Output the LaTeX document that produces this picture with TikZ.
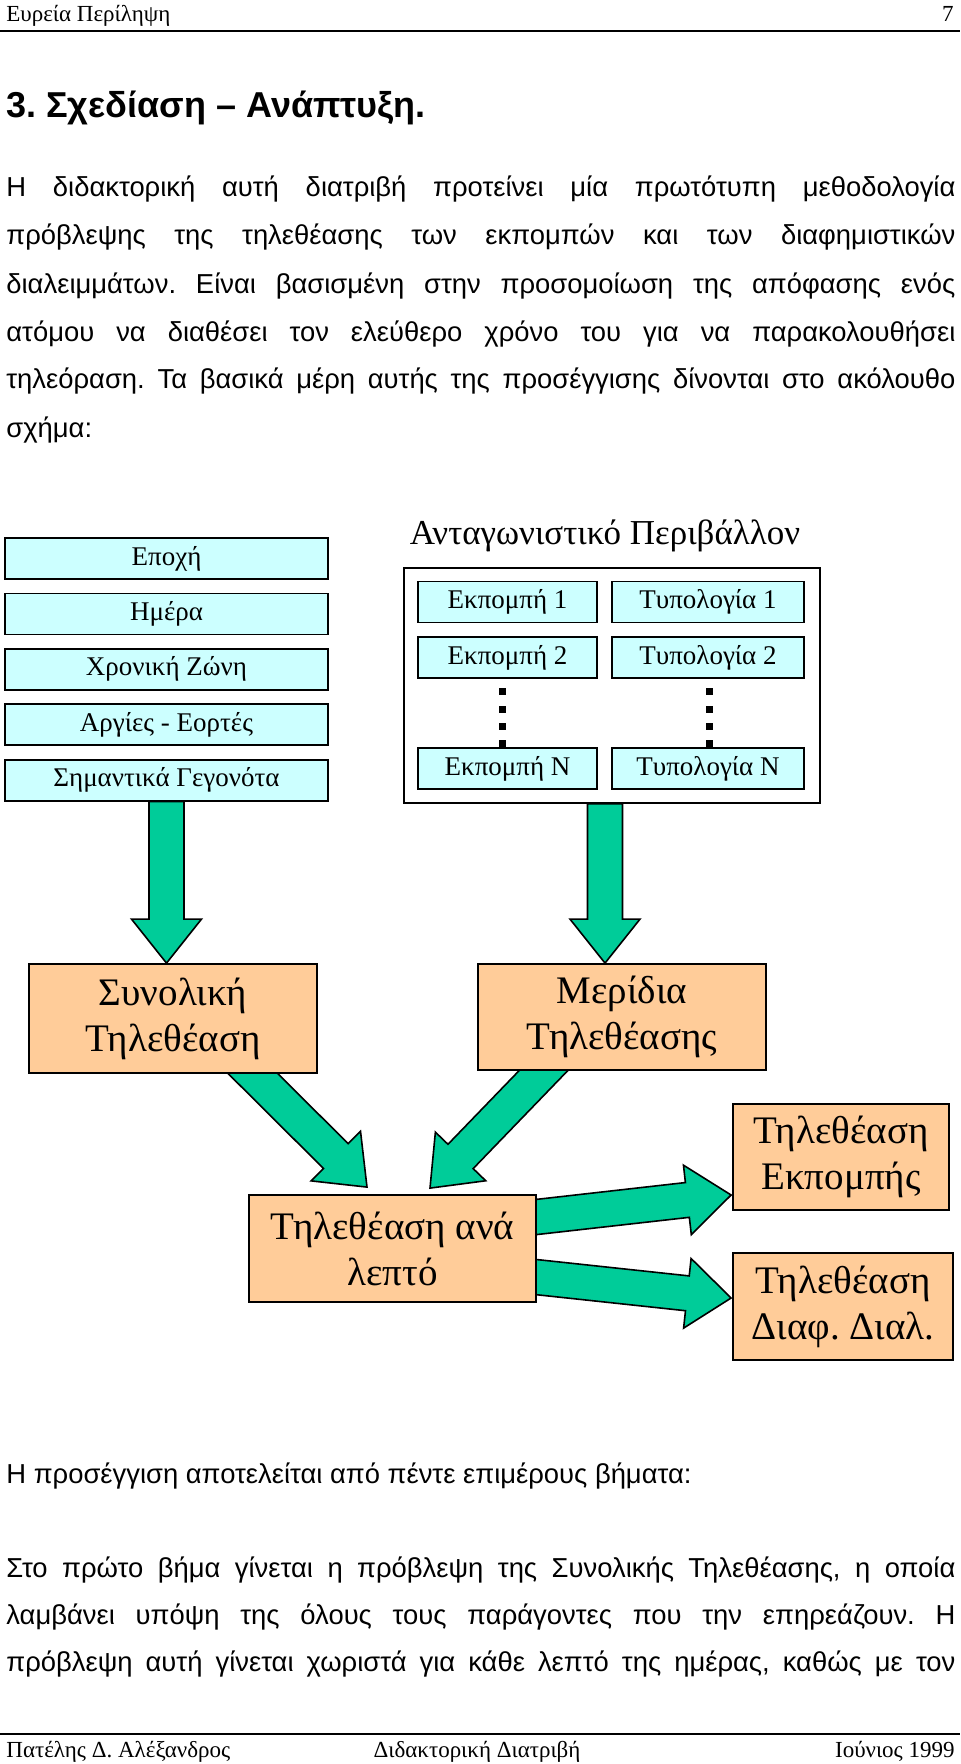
\documentclass[tikz,border=0pt]{standalone}
\usepackage{fontspec}
\setmainfont{Liberation Serif}
\newfontfamily\arialfont{Liberation Sans}
\usetikzlibrary{calc,backgrounds}
\frenchspacing

\definecolor{arrgreen}{RGB}{0,204,153}
\definecolor{peach}{RGB}{255,204,153}
\definecolor{icecyan}{RGB}{204,255,255}

% thick block arrow from #1 to #2
\newcommand\fatarrow[2]{%
  \coordinate (fah) at ($(#2)!22pt!(#1)$);
  \filldraw[fill=arrgreen,draw=black,line width=0.8pt,line join=miter]
    ($(#1)!8.75pt!90:(#2)$) -- ($(fah)!8.75pt!-90:(#1)$) -- ($(fah)!17.5pt!-90:(#1)$)
    -- (#2) -- ($(fah)!17.5pt!90:(#1)$) -- ($(fah)!8.75pt!90:(#1)$)
    -- ($(#1)!8.75pt!-90:(#2)$) -- cycle;}

\tikzset{
  bodyline/.style={anchor=base west,inner sep=0pt,font=\arialfont\fontsize{13.7}{16}\selectfont},
  factorbox/.style={draw=black,fill=icecyan,line width=0.9pt,minimum width=161.5pt,minimum height=20.5pt,inner sep=0pt,font=\fontsize{13.5}{16}\selectfont},
  showbox/.style={factorbox,minimum width=89.5pt},
  typebox/.style={factorbox,minimum width=96pt},
  resultbox/.style={draw=black,fill=peach,line width=0.9pt,inner sep=0pt,align=center,font=\fontsize{19.5}{23}\selectfont}
}

\begin{document}
\begin{tikzpicture}[x=0.5pt,y=-0.5pt]
  \useasboundingbox (0,0) rectangle (960,1764);

  % header
  \node[anchor=base west,inner sep=0pt,font=\fontsize{11.5}{13}\selectfont] (hdl) at (6,22) {Ευρεία Περίληψη};
  \node[anchor=base east,inner sep=0pt,font=\fontsize{11.5}{13}\selectfont] (hdr) at (954,22) {7};
  \draw[line width=1pt] (0,31) -- (960,31);

  \node[anchor=base west,inner sep=0pt,font=\arialfont\bfseries\fontsize{18}{21}\selectfont] (title) at (6,118) {3. Σχεδίαση – Ανάπτυξη.};

  \node[bodyline] (p1a) at (6,197) {\makebox[474.5pt][s]{Η διδακτορική αυτή διατριβή προτείνει μία πρωτότυπη μεθοδολογία}};
  \node[bodyline] (p1b) at (6,245) {\makebox[474.5pt][s]{πρόβλεψης της τηλεθέασης των εκπομπών και των διαφημιστικών}};
  \node[bodyline] (p1c) at (6,294) {\makebox[474.5pt][s]{διαλειμμάτων. Είναι βασισμένη στην προσομοίωση της απόφασης ενός}};
  \node[bodyline] (p1d) at (6,342) {\makebox[474.5pt][s]{ατόμου να διαθέσει τον ελεύθερο χρόνο του για να παρακολουθήσει}};
  \node[bodyline] (p1e) at (6,389) {\makebox[474.5pt][s]{τηλεόραση. Τα βασικά μέρη αυτής της προσέγγισης δίνονται στο ακόλουθο}};
  \node[bodyline] (p1f) at (6,438) {σχήμα:};

  % left column of factors
  \foreach \lbl [count=\i from 0] in {Εποχή,Ημέρα,Χρονική Ζώνη,Αργίες - Εορτές,Σημαντικά Γεγονότα}
    \node[factorbox] (f\i) at (166.5,558.5+55.4*\i) {\lbl};

  % competitive environment
  \node[inner sep=0pt,font=\fontsize{17.5}{20}\selectfont] (envtitle) at (605,536) {Ανταγωνιστικό Περιβάλλον};
  \node[draw=black,line width=0.9pt,minimum width=208pt,minimum height=117.5pt,inner sep=0pt] (env) at (612,685.5) {};
  \foreach \yy in {691,709,726,743} {
    \fill (502,\yy) ++(-3.5,-3.5) rectangle ++(7,7);
    \fill (709,\yy) ++(-3.5,-3.5) rectangle ++(7,7);
  }
  \node[showbox] (s1) at (507.5,602) {Εκπομπή 1};
  \node[showbox] (s2) at (507.5,657.5) {Εκπομπή 2};
  \node[showbox] (sn) at (507.5,768.5) {Εκπομπή Ν};
  \node[typebox] (t1) at (708,602) {Τυπολογία 1};
  \node[typebox] (t2) at (708,657.5) {Τυπολογία 2};
  \node[typebox] (tn) at (708,768.5) {Τυπολογία Ν};

  % results
  \node[resultbox,minimum width=144pt,minimum height=54.5pt] (total) at (173,1018.5) {Συνολική\\Τηλεθέαση};
  \node[resultbox,minimum width=144pt,minimum height=53pt] (share) at (622,1017) {Μερίδια\\Τηλεθέασης};
  \node[resultbox,minimum width=143.5pt,minimum height=53.5pt] (permin) at (392.5,1248.5) {Τηλεθέαση ανά\\λεπτό};
  \node[resultbox,minimum width=108pt,minimum height=53pt] (progview) at (841,1157) {Τηλεθέαση\\Εκπομπής};
  \node[resultbox,minimum width=110pt,minimum height=53.5pt] (breakview) at (843,1306.5) {Τηλεθέαση\\Διαφ. Διαλ.};

  \begin{scope}[on background layer]
    \coordinate (a1) at (f4.south |- total.north);
    \fatarrow{f4.south}{a1}
    \coordinate (b0) at ($(env.south)+(-7,0)$);
    \coordinate (b1) at (b0 |- share.north);
    \fatarrow{b0}{b1}
    \coordinate (c0) at ($(total.south)+(62.4,-17.8)$);
    \coordinate (c1) at ($(permin.north)+(-25.5,-7)$);
    \fatarrow{c0}{c1}
    \coordinate (d0) at ($(share.south)+(-63.3,-16.1)$);
    \coordinate (d1) at ($(permin.north)+(37.5,-6)$);
    \fatarrow{d0}{d1}
    \coordinate (e0) at ($(permin.east)+(-20,-29.3)$);
    \coordinate (e1) at ($(progview.west)+(-1,38)$);
    \fatarrow{e0}{e1}
    \coordinate (g0) at ($(permin.east)+(-20,26.5)$);
    \coordinate (g1) at ($(breakview.west)+(-1,-8.5)$);
    \fatarrow{g0}{g1}
  \end{scope}

  \node[bodyline] (p2) at (6,1483) {Η προσέγγιση αποτελείται από πέντε επιμέρους βήματα:};
  \node[bodyline] (p3a) at (6,1577) {\makebox[474.5pt][s]{Στο πρώτο βήμα γίνεται η πρόβλεψη της Συνολικής Τηλεθέασης, η οποία}};
  \node[bodyline] (p3b) at (6,1624) {\makebox[474.5pt][s]{λαμβάνει υπόψη της όλους τους παράγοντες που την επηρεάζουν. Η}};
  \node[bodyline] (p3c) at (6,1671) {\makebox[474.5pt][s]{πρόβλεψη αυτή γίνεται χωριστά για κάθε λεπτό της ημέρας, καθώς με τον}};

  % footer
  \draw[line width=1pt] (0,1734) -- (960,1734);
  \node[anchor=base west,inner sep=0pt,font=\fontsize{11.5}{13}\selectfont] (ftl) at (6,1757) {Πατέλης Δ. Αλέξανδρος};
  \node[anchor=base,inner sep=0pt,font=\fontsize{11.5}{13}\selectfont] (ftc) at (477,1757) {Διδακτορική Διατριβή};
  \node[anchor=base east,inner sep=0pt,font=\fontsize{11.5}{13}\selectfont] (ftr) at (955,1757) {Ιούνιος 1999};
\end{tikzpicture}
\end{document}
